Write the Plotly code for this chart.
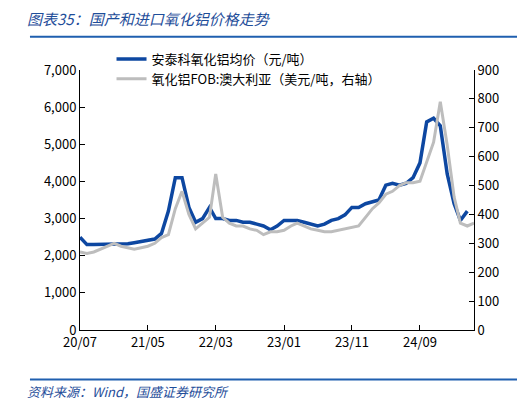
import plotly.graph_objects as go
import pandas as pd

months = pd.date_range("2020-07-01", "2025-05-01", freq="MS").strftime("%Y-%m-%d").tolist()
domestic = [2500,2300,2300,2300,2300,2300,2300,2320,2350,2380,2400,2450,2600,3200,4100,4100,3300,2900,3000,3300,3000,3000,2950,2950,2900,2900,2850,2800,2700,2800,2950,2950,2950,2900,2850,2800,2850,2950,3000,3100,3300,3300,3400,3450,3500,3900,3950,3900,3950,4100,4500,5600,5700,5500,4200,3400,2950,3200]
fob = [270,265,270,280,290,300,290,285,280,285,290,300,320,330,420,480,400,350,370,390,540,390,370,360,360,350,345,330,340,340,345,360,370,360,350,345,340,340,345,350,355,360,390,420,440,470,480,500,510,510,515,580,650,790,640,460,370,360,370][:len(months)]
tickvals = ["2020-07-01","2021-05-01","2022-03-01","2023-01-01","2023-11-01","2024-09-01"]
ticktext = ["20/07","21/05","22/03","23/01","23/11","24/09"]

fig = go.Figure()
fig.add_trace(go.Scatter(x=months, y=domestic, name="安泰科氧化铝均价（元/吨）", line=dict(color="#0D47A1", width=3.5)))
fig.add_trace(go.Scatter(x=months, y=fob, name="氧化铝FOB:澳大利亚（美元/吨，右轴）", yaxis="y2", line=dict(color="#BDBDBD", width=3)))
fig.update_layout(
    width=525, height=406, margin=dict(l=72, r=59, t=62, b=84),
    plot_bgcolor="white", paper_bgcolor="white",
    font=dict(family="Noto Sans CJK SC, DejaVu Sans", size=13, color="black"),
    showlegend=True,
    legend=dict(x=0.08, y=1.10, xanchor="left", yanchor="top", bgcolor="rgba(0,0,0,0)", font=dict(size=13), tracegroupgap=0),
    xaxis=dict(type="date", range=["2020-07-01","2025-05-01"], tickvals=tickvals, ticktext=ticktext,
               showgrid=False, showline=True, linecolor="black", ticks="inside", ticklen=5, tickcolor="black"),
    yaxis=dict(range=[0,7000], dtick=1000, tickformat=",", showgrid=False, showline=True, linecolor="black",
               ticks="inside", ticklen=5, tickcolor="black"),
    yaxis2=dict(range=[0,900], dtick=100, overlaying="y", side="right", showgrid=False, showline=True,
                linecolor="black", ticks="inside", ticklen=5, tickcolor="black"),
    shapes=[
        dict(type="line", xref="paper", yref="paper", x0=-0.127, x1=1.147, y0=1.128, y1=1.128, line=dict(color="#1F5FAF", width=2)),
        dict(type="line", xref="paper", yref="paper", x0=-0.127, x1=1.147, y0=-0.19, y1=-0.19, line=dict(color="#1F5FAF", width=2)),
    ],
    annotations=[
        dict(text="<i>图表35：国产和进口氧化铝价格走势</i>", xref="paper", yref="paper", x=-0.14, y=1.20, xanchor="left", yanchor="middle",
             showarrow=False, font=dict(size=15, color="#1F4E9A")),
        dict(text="<i>资料来源：Wind，国盛证券研究所</i>", xref="paper", yref="paper", x=-0.14, y=-0.235, xanchor="left", yanchor="middle",
             showarrow=False, font=dict(size=13, color="#1F4E9A")),
    ],
)
fig.write_html("out.html")
